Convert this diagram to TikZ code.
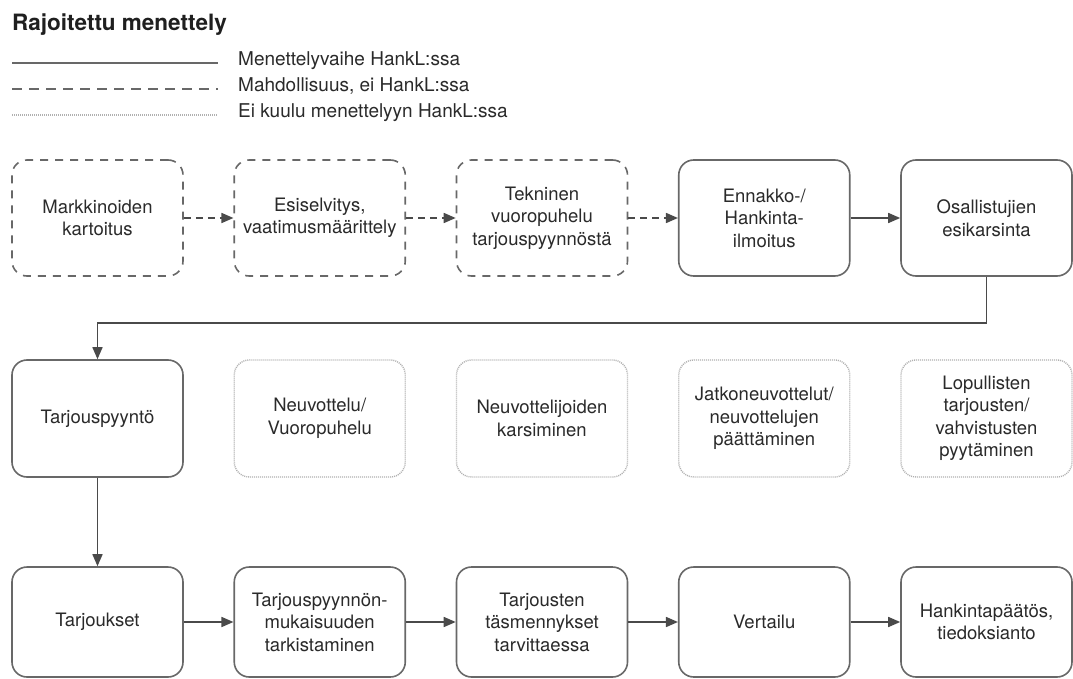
\documentclass[tikz,border=0pt]{standalone}
\usepackage{fontspec}
\setmainfont{TeX Gyre Heros}
\usetikzlibrary{arrows.meta}
\definecolor{boxline}{HTML}{686868}
\definecolor{dotline}{HTML}{B0B0B0}
\definecolor{arrline}{HTML}{4A4A4A}
\definecolor{txt}{HTML}{2A2A2A}
\tikzset{
  box/.style={draw=boxline, line width=1.6pt, rounded corners=15pt, minimum width=171pt,
    inner sep=0pt, align=center, font=\fontsize{18.5}{22.5}\selectfont, text=txt},
  solidbox/.style={box},
  dashbox/.style={box, dash pattern=on 8pt off 7pt},
  dotbox/.style={box, draw=dotline, line width=1.4pt, dash pattern=on 1pt off 1pt},
  conn/.style={draw=arrline, line width=1.6pt, -{Triangle[length=12pt,width=10pt]}},
  dconn/.style={conn, dash pattern=on 7pt off 5pt},
  legtext/.style={anchor=mid west, font=\fontsize{19}{22}\selectfont, text=txt, inner sep=0pt},
}
\begin{document}
\begin{tikzpicture}[x=1pt, y=-1pt]
\useasboundingbox[fill=white] (0,0) rectangle (1073,679);

% title and legend
\node[anchor=base west, inner sep=0pt, font=\fontsize{22.5}{26}\selectfont\bfseries, text=black!88] (title) at (12,31) {Rajoitettu menettely};
\coordinate (l1a) at (12,63); \coordinate (l1b) at (218,63);
\coordinate (l2a) at (12,89); \coordinate (l2b) at (218,89);
\coordinate (l3a) at (12,115); \coordinate (l3b) at (218,115);
\draw[draw=boxline, line width=1.6pt] (l1a) -- (l1b);
\draw[draw=boxline, line width=1.6pt, dash pattern=on 10pt off 7pt] (l2a) -- (l2b);
\draw[draw=dotline, line width=1.4pt, dash pattern=on 1pt off 1pt] (l3a) -- (l3b);
\node[legtext] (leg1) at (238,63) {Menettelyvaihe HankL:ssa};
\node[legtext] (leg2) at (238,89) {Mahdollisuus, ei HankL:ssa};
\node[legtext] (leg3) at (238,115) {Ei kuulu menettelyyn HankL:ssa};

% top row
\node[dashbox, minimum height=116pt] (t1) at (97.5,218) {Markkinoiden\\kartoitus};
\node[dashbox, minimum height=116pt] (t2) at (319.75,218) {Esiselvitys,\\vaatimusmäärittely};
\node[dashbox, minimum height=116pt] (t3) at (542,218) {Tekninen\\vuoropuhelu\\tarjouspyynnöstä};
\node[solidbox, minimum height=116pt] (t4) at (764.25,218) {Ennakko-/\\Hankinta-\\ilmoitus};
\node[solidbox, minimum height=116pt] (t5) at (986.5,218) {Osallistujien\\esikarsinta};

% middle row
\node[solidbox, minimum height=117pt] (m1) at (97.5,418.5) {Tarjouspyyntö};
\node[dotbox, minimum height=117pt] (m2) at (319.75,418.5) {Neuvottelu/\\Vuoropuhelu};
\node[dotbox, minimum height=117pt] (m3) at (542,418.5) {Neuvottelijoiden\\karsiminen};
\node[dotbox, minimum height=117pt] (m4) at (764.25,418.5) {Jatkoneuvottelut/\\neuvottelujen\\päättäminen};
\node[dotbox, minimum height=117pt] (m5) at (986.5,418.5) {Lopullisten\\tarjousten/\\vahvistusten\\pyytäminen};

% bottom row
\node[solidbox, minimum height=110pt] (b1) at (97.5,622) {Tarjoukset};
\node[solidbox, minimum height=110pt] (b2) at (319.75,622) {Tarjouspyynnön-\\mukaisuuden\\tarkistaminen};
\node[solidbox, minimum height=110pt] (b3) at (542,622) {Tarjousten\\täsmennykset\\tarvittaessa};
\node[solidbox, minimum height=110pt] (b4) at (764.25,622) {Vertailu};
\node[solidbox, minimum height=110pt] (b5) at (986.5,622) {Hankintapäätös,\\tiedoksianto};

% connectors
\draw[dconn] (t1) -- (t2);
\draw[dconn] (t2) -- (t3);
\draw[dconn] (t3) -- (t4);
\draw[conn] (t4) -- (t5);
\draw[conn] (t5.south) -- ++(0,46) -| (m1.north);
\draw[conn] (m1) -- (b1);
\draw[conn] (b1) -- (b2);
\draw[conn] (b2) -- (b3);
\draw[conn] (b3) -- (b4);
\draw[conn] (b4) -- (b5);
\end{tikzpicture}
\end{document}
